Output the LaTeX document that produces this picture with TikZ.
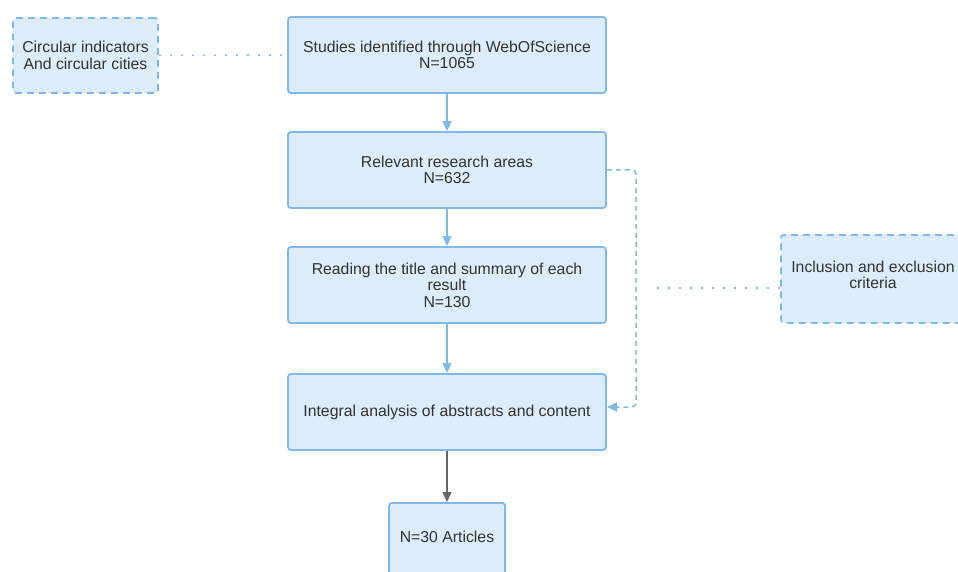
\documentclass[tikz,border=0pt]{standalone}
\usepackage{fontspec}
\setmainfont{Liberation Sans}
\usetikzlibrary{arrows.meta}
\definecolor{boxfill}{HTML}{DCEDF9}
\definecolor{boxline}{HTML}{80B9E8}
\definecolor{txt}{HTML}{333333}
\definecolor{darkarrow}{HTML}{666666}
\tikzset{
  fnt/.style={font=\fontsize{15.8}{16.5}\selectfont},
  box/.style={draw=boxline, fill=boxfill, line width=1.8pt, rounded corners=3pt, text=txt,
    align=center, fnt, inner sep=0pt},
  dbox/.style={box, dash pattern=on 7pt off 5pt},
  flow/.style={draw=boxline, line width=1.5pt, -{Triangle[width=9pt,length=10pt]}},
  darkflow/.style={draw=darkarrow, line width=1.5pt, -{Triangle[width=9pt,length=10pt]}},
  dotline/.style={draw=boxline, line width=1.5pt, dash pattern=on 2pt off 9pt},
  dashline/.style={draw=boxline, line width=1.5pt, dash pattern=on 5pt off 4pt}
}
\begin{document}
\begin{tikzpicture}[x=1pt,y=-1pt]
\useasboundingbox (0,0) rectangle (958,572);
\begin{scope}
\clip (0,0) rectangle (958,572);
\node[box, minimum width=318pt, minimum height=76pt] (s) at (447,55) {Studies identified through WebOfScience\\N=1065};
\node[dbox, minimum width=145pt, minimum height=75pt] (c) at (85.5,55.5) {Circular indicators\\And circular cities};
\node[box, minimum width=318pt, minimum height=76pt] (r) at (447,170) {Relevant research areas\\N=632};
\node[box, minimum width=318pt, minimum height=76pt] (rd) at (447,285) {Reading the title and summary of each\\result\\N=130};
\node[box, minimum width=318pt, minimum height=76pt] (i) at (447,412) {Integral analysis of abstracts and content};
\node[box, minimum width=116pt, minimum height=120pt, anchor=north] (n) at (447,502) {};
\node[text=txt, fnt] (nt) at (447,537) {N=30 Articles};
\node[dbox, minimum width=200pt, minimum height=88pt, anchor=north west] (inc) at (780,234) {};
\node[text=txt, fnt, align=center] (inct) at (873,275) {Inclusion and exclusion\\criteria};
\end{scope}
\coordinate (free) at (650,288);
\draw[dotline] (c.east) -- (s.west);
\draw[flow] (s.south) -- (r.north);
\draw[flow] (r.south) -- (rd.north);
\draw[flow] (rd.south) -- (i.north);
\draw[darkflow] (i.south) -- (n.north);
\draw[dashline, rounded corners=4pt, -{Triangle[width=9pt,length=10pt]}] (r.east) -- (636,170) -- (636,407) -- (607,407);
\draw[dotline] (780,288) -- (free);
\end{tikzpicture}
\end{document}
